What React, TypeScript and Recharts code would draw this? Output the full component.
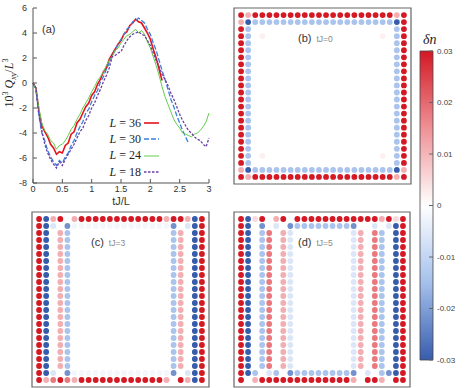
import React from "react";
import {
  LineChart, Line, XAxis, YAxis, Legend,
  ScatterChart, Scatter, ReferenceArea, BarChart, Bar,
} from "recharts";

const SANS = '"Liberation Sans", Arial, sans-serif';
const SERIF = '"Liberation Serif", "Times New Roman", serif';

// panel (a): time axis and the four curves (10^3 Q_xy / L^3)
const T = [
  0, 0.05, 0.1, 0.15, 0.2, 0.25, 0.3, 0.35, 0.4, 0.45, 0.5, 0.55, 0.6, 0.65, 0.7, 0.75,
  0.8, 0.85, 0.9, 0.95, 1, 1.05, 1.1, 1.15, 1.2, 1.25, 1.3, 1.35, 1.4, 1.45, 1.5, 1.55,
  1.6, 1.65, 1.7, 1.75, 1.8, 1.85, 1.9, 1.95, 2, 2.05, 2.1, 2.15, 2.2, 2.25, 2.3, 2.35,
  2.4, 2.45, 2.5, 2.55, 2.6, 2.65, 2.7, 2.75, 2.8, 2.85, 2.9, 2.95, 3,
];
const L36 = [
  0, -0.4, -2.2, -3.4, -3.9, -4.3, -4.9, -5.2, -5.7, -5.5, -5.6, -5.0, -4.8, -4.1, -3.9, -3.2,
  -2.9, -2.4, -1.9, -1.6, -1.0, -0.7, -0.1, 0.3, 0.9, 1.2, 1.9, 2.3, 2.7, 3.1, 3.4, 3.9,
  4.1, 4.6, 4.8, 5.1, 4.9, 4.8, 4.4, 4.0, 3.5, 2.7, 2.0, 1.1, 0.2,
];
const L30 = [
  0, -0.6, -2.6, -4.0, -4.6, -5.4, -5.9, -6.3, -6.6, -6.2, -6.4, -5.9, -5.6, -5.0, -4.6, -4.0,
  -3.5, -3.1, -2.4, -2.1, -1.5, -1.0, -0.6, 0.1, 0.5, 1.1, 1.6, 2.2, 2.6, 3.1, 3.5, 3.9,
  4.3, 4.5, 4.9, 5.0, 5.2, 5.0, 4.8, 4.3, 3.9, 3.2, 2.6, 1.8, 1.0, 0.3, -0.5, -1.3,
  -1.9, -2.6, -3.2, -3.8, -4.3, -4.8,
];
const L24 = [
  0, -0.5, -2.0, -3.2, -3.8, -4.1, -4.6, -4.8, -5.3, -5.0, -4.9, -4.6, -4.2, -3.7, -3.4, -2.9,
  -2.5, -2.0, -1.6, -1.2, -0.7, -0.3, 0.2, 0.5, 0.9, 1.4, 1.8, 2.1, 2.6, 2.8, 3.2, 3.5,
  3.8, 3.9, 4.1, 4.3, 4.0, 4.2, 3.9, 3.3, 2.8, 2.1, 1.4, 0.6, -0.3, -1.1, -1.7, -2.3,
  -2.9, -3.3, -3.6, -4.0, -4.1, -4.2, -4.3, -4.1, -4.0, -3.8, -3.5, -3.1, -2.4,
];
const L18 = [
  0, -0.4, -2.5, -3.8, -4.9, -5.6, -6.1, -6.5, -6.8, -6.3, -6.6, -6.1, -5.7, -5.3, -4.9, -4.4,
  -3.9, -3.6, -3.0, -2.6, -2.0, -1.6, -1.0, -0.5, 0.1, 0.6, 1.2, 2.1, 2.2, 2.4, 2.5, 3.0,
  3.4, 3.7, 3.9, 4.0, 4.1, 3.9, 3.8, 3.4, 3.0, 2.4, 1.8, 1.3, 0.7, 0.3, -0.2, -0.8,
  -1.3, -1.9, -2.5, -3.0, -3.4, -3.8, -4.0, -4.3, -4.5, -4.6, -4.9, -5.1, -4.4,
];
const T_TICKS = [0, 0.5, 1, 1.5, 2, 2.5, 3];
const Y_TICKS = [-8, -6, -4, -2, 0, 2, 4, 6];

const SERIES = [
  { key: "l36", name: "36", color: "#e3141c", width: 1.6, dash: undefined },
  { key: "l30", name: "30", color: "#3c7fdc", width: 1.3, dash: "5 2" },
  { key: "l24", name: "24", color: "#63cc4c", width: 1.0, dash: undefined },
  { key: "l18", name: "18", color: "#6a3fa4", width: 1.3, dash: "2.5 1.5" },
];

const lineData = T.map((t, i) => ({ t, l36: L36[i], l30: L30[i], l24: L24[i], l18: L18[i] }));

// panels (b)-(d): delta n on a 24x24 lattice, one char per site
const LEVELS: Record<string, number> = {
  R: 0.03, r: 0.018, p: 0.011, q: 0.005, f: 0.002, ".": 0,
  c: -0.002, l: -0.006, b: -0.014, m: -0.022, B: -0.03,
};

const PANEL_B = [
  "RpRRRRRRRRRRRRRRRRRRRRpR",
  "pBbbbbbbbbbbbbbbbbbbbbBR",
  "Rb....................bR",
  "Rb.f................f.bR",
  "Rb....................bR",
  "Rb....................bR",
  "Rb....................bR",
  "Rb....................bR",
  "Rb....................bR",
  "Rb....................bR",
  "Rb....................bR",
  "Rb....................bR",
  "Rb....................bR",
  "Rb....................bR",
  "Rb....................bR",
  "Rb....................bR",
  "Rb....................bR",
  "Rb....................bR",
  "Rb....................bR",
  "Rb....................bR",
  "Rb.f................f.bR",
  "Rb....................bR",
  "pBbbbbbbbbbbbbbbbbbbbbBp",
  "RpRRRRRRRRRRRRRRRRRRRRpR",
];

const PANEL_C = [
  "RBpR.pRRRRRRRRRRRRpRRpBR",
  "RBl.mccccccccccccccm.lBR",
  "RB.pb..............bp.BR",
  "RB.pb..............bp.BR",
  "RB.pb..............bp.BR",
  "RB.pb..............bp.BR",
  "RB.pb..............bp.BR",
  "RB.pb..............bp.BR",
  "RB.pb..............bp.BR",
  "RB.pb..............bp.BR",
  "RB.pb..............bp.BR",
  "RB.pb..............bp.BR",
  "RB.pb..............bp.BR",
  "RB.pb..............bp.BR",
  "RB.pb..............bp.BR",
  "RB.pb..............bp.BR",
  "RB.pb..............bp.BR",
  "RB.pb..............bp.BR",
  "RB.pb..............bp.BR",
  "RB.pb..............bp.BR",
  "RB.pb..............bp.BR",
  "RB.pb..............bp.BR",
  "RBl.mccccccccccccccm.lBR",
  "RprRrpRRRRRRRRRRRRp.RpBR",
];

const PANEL_D = [
  "RBqR.pR.RRRRRRRRRRRRpRqR",
  "RB.m.l.mbbbbbbbbm..l.lBR",
  "RB.br.pl........lp.rb.BR",
  "RB.br.pl........lp.rb.BR",
  "RB.br.pl........lp.rb.BR",
  "RB.br.pl........lp.rb.BR",
  "RB.br.pl........lp.rb.BR",
  "RB.br.pl........lp.rb.BR",
  "RB.br.pl........lp.rb.BR",
  "RB.br.pl........lp.rb.BR",
  "RB.br.pl........lp.rb.BR",
  "RB.br.pl........lp.rb.BR",
  "RB.br.pl........lp.rb.BR",
  "RB.br.pl........lp.rb.BR",
  "RB.br.pl........lp.rb.BR",
  "RB.br.pl........lp.rb.BR",
  "RB.br.pl........lp.rb.BR",
  "RB.br.pl........lp.rb.BR",
  "RB.br.pl........lp.rb.BR",
  "RB.br.pl........lp.rb.BR",
  "RB.br.pl........lp.rb.BR",
  "RB.br.pl........lp.rb.BR",
  "RBb.lb.mbbbbbbbbm.l.bmBR",
  "R.pRRRRRRRRRRRRRp.RRp.RR",
];

const CB_TICKS = [0.03, 0.02, 0.01, 0, -0.01, -0.02, -0.03];
const CB_RANGE = [-0.03, 0.03];

// colour scale: white -> mid -> full, separately for each sign
const RED_MID = [238, 145, 150];
const RED_END = [212, 24, 36];
const BLUE_MID = [165, 192, 236];
const BLUE_END = [55, 92, 172];

function mix(a: number[], b: number[], t: number) {
  return a.map((x, i) => Math.round(x + (b[i] - x) * t));
}

function dnColor(v: number) {
  const t = Math.max(-1, Math.min(1, v / 0.03));
  const a = Math.abs(t);
  const mid = t >= 0 ? RED_MID : BLUE_MID;
  const end = t >= 0 ? RED_END : BLUE_END;
  const c = a <= 0.5 ? mix([255, 255, 255], mid, a / 0.5) : mix(mid, end, (a - 0.5) / 0.5);
  return `rgb(${c.join(",")})`;
}

function toPoints(rows: string[]) {
  return rows.flatMap((row, r) =>
    row.split("").map((ch, c) => ({ x: c, y: r, v: LEVELS[ch] ?? 0 }))
  );
}

// eslint-disable-next-line @typescript-eslint/no-explicit-any
function Dot(p: any) {
  if (p.cx == null || p.cy == null) return null;
  return <circle cx={p.cx} cy={p.cy} r={2.9} fill={dnColor(p.payload.v)} />;
}

// eslint-disable-next-line @typescript-eslint/no-explicit-any
function LegendBox({ payload }: any) {
  const items = [...(payload || [])].sort(
    (a: any, b: any) => SERIES.findIndex((s) => s.key === a.dataKey) - SERIES.findIndex((s) => s.key === b.dataKey)
  );
  return (
    <div>
      {items.map((p: any) => {
        const s = SERIES.find((x) => x.key === p.dataKey) || SERIES[0];
        return (
          <div key={s.key} style={{ display: "flex", alignItems: "center", height: 16.3 }}>
            <span style={{ width: 43, textAlign: "right", fontFamily: SERIF, fontSize: 12, color: "#222", whiteSpace: "nowrap" }}>
              <i>L</i> = {s.name}
            </span>
            <svg width={20} height={6} style={{ marginLeft: 2 }}>
              <line x1={1} x2={16} y1={3} y2={3} stroke={s.color} strokeWidth={s.width} strokeDasharray={s.dash} />
            </svg>
          </div>
        );
      })}
    </div>
  );
}

function GridPanel({ rows, left, top, width, height }: { rows: string[]; left: number; top: number; width: number; height: number }) {
  const pts = toPoints(rows);
  return (
    <div style={{ position: "absolute", left, top }}>
      <ScatterChart width={width} height={height} margin={{ top: 1, right: 1, bottom: 1, left: 1 }}>
        <XAxis type="number" dataKey="x" domain={[-1, 24]} hide />
        <YAxis type="number" dataKey="y" domain={[-1, 24]} reversed hide />
        <ReferenceArea x1={-1} x2={24} y1={-1} y2={24} fill="none" stroke="#666" strokeWidth={1.2} ifOverflow="visible" />
        <Scatter data={pts} shape={Dot} isAnimationActive={false} />
      </ScatterChart>
    </div>
  );
}

function PanelLabel({ left, top, tag, time }: { left: number; top: number; tag: string; time: string }) {
  return (
    <div style={{ position: "absolute", left, top, fontFamily: SANS, whiteSpace: "nowrap", lineHeight: "14px" }}>
      <span style={{ fontSize: 11, color: "#333" }}>{tag}</span>
      <span style={{ fontSize: 8.5, color: "#888", marginLeft: 5 }}>{time}</span>
    </div>
  );
}

const GRAD_STOPS = Array.from({ length: 25 }, (_, i) => i / 24);

export default function App() {
  const tickStyle = { fontSize: 9, fill: "#333", fontFamily: SANS };
  return (
    <div style={{ position: "absolute", left: 0, top: 0, width: 471, height: 388, background: "#fff", overflow: "hidden" }}>
      {/* (a) */}
      <div style={{ position: "absolute", left: 0, top: 0 }}>
        <LineChart width={215} height={210} data={lineData} margin={{ top: 8, right: 6, bottom: 0, left: 0 }}>
          <XAxis
            type="number" dataKey="t" domain={[0, 3]} ticks={T_TICKS} height={27}
            tickSize={-4} tickMargin={7} stroke="#555" tick={tickStyle}
            label={{ value: "tJ/L", position: "insideBottom", offset: 5, fontSize: 11, fill: "#333", fontFamily: SANS }}
          />
          <XAxis xAxisId="top" orientation="top" type="number" domain={[0, 3]} ticks={T_TICKS} height={0} tickSize={-4} tick={false} stroke="#555" />
          <YAxis type="number" domain={[-8, 6]} ticks={Y_TICKS} width={33} tickSize={-4} tickMargin={10} stroke="#555" tick={tickStyle} />
          <YAxis yAxisId="right" orientation="right" type="number" domain={[-8, 6]} ticks={Y_TICKS} width={0} tickSize={-4} tick={false} stroke="#555" />
          {SERIES.map((s) => (
            <Line
              key={s.key} dataKey={s.key} name={s.name} stroke={s.color} strokeWidth={s.width}
              strokeDasharray={s.dash} dot={false} isAnimationActive={false} type="linear"
            />
          ))}
          <Legend
            layout="horizontal" verticalAlign="middle" align="center"
            content={<LegendBox />}
            wrapperStyle={{ left: 98, top: 115, width: 70 }}
          />
        </LineChart>
      </div>
      <div style={{ position: "absolute", left: 42, top: 23, fontFamily: SANS, fontSize: 11, color: "#333" }}>(a)</div>
      <div
        style={{
          position: "absolute", left: 10, top: 83, transform: "translate(-50%, -50%) rotate(-90deg)",
          whiteSpace: "nowrap", fontFamily: SERIF, fontSize: 12, color: "#222", lineHeight: "12px",
        }}
      >
        10<sup style={{ fontSize: 8 }}>3</sup> <i>Q</i><sub style={{ fontSize: 8 }}><i>xy</i></sub>/<i>L</i><sup style={{ fontSize: 8 }}>3</sup>
      </div>

      {/* (b), (c), (d) */}
      <GridPanel rows={PANEL_B} left={233} top={7} width={179} height={178} />
      <GridPanel rows={PANEL_C} left={31} top={211} width={179} height={177} />
      <GridPanel rows={PANEL_D} left={233} top={211} width={178} height={177} />
      <PanelLabel left={298} top={30} tag="(b)" time="tJ=0" />
      <PanelLabel left={91} top={234} tag="(c)" time="tJ=3" />
      <PanelLabel left={298} top={234} tag="(d)" time="tJ=5" />

      {/* colour bar: one range bar from -0.03 to 0.03 filled with the colour scale */}
      <div style={{ position: "absolute", left: 410, top: 0 }}>
        <BarChart
          width={61} height={388} data={[{ name: "dn", range: CB_RANGE }]}
          margin={{ top: 51, right: 0, bottom: 28, left: 10 }} barCategoryGap={0}
        >
          <defs>
            <linearGradient id="cbGrad" x1="0" y1="0" x2="0" y2="1">
              {GRAD_STOPS.map((f, i) => (
                <stop key={i} offset={`${f * 100}%`} stopColor={dnColor(0.03 - f * 0.06)} />
              ))}
            </linearGradient>
          </defs>
          <XAxis dataKey="name" hide />
          <YAxis
            orientation="right" type="number" domain={CB_RANGE} ticks={CB_TICKS} width={38}
            axisLine={false} tickSize={-4} tickMargin={8} stroke="#666"
            tick={{ fontSize: 8, fill: "#444", fontFamily: SANS }}
            tickFormatter={(v: number) => (v === 0 ? "0" : v.toFixed(2))}
          />
          <YAxis
            yAxisId="left" orientation="left" type="number" domain={CB_RANGE} ticks={CB_TICKS} width={0}
            axisLine={false} tickSize={-4} tick={false} stroke="#666"
          />
          <Bar dataKey="range" fill="url(#cbGrad)" stroke="#444" strokeWidth={0.8} isAnimationActive={false} />
        </BarChart>
      </div>
      <div style={{ position: "absolute", left: 423, top: 32, fontFamily: SERIF, fontStyle: "italic", fontSize: 14, color: "#222" }}>δn</div>
    </div>
  );
}
